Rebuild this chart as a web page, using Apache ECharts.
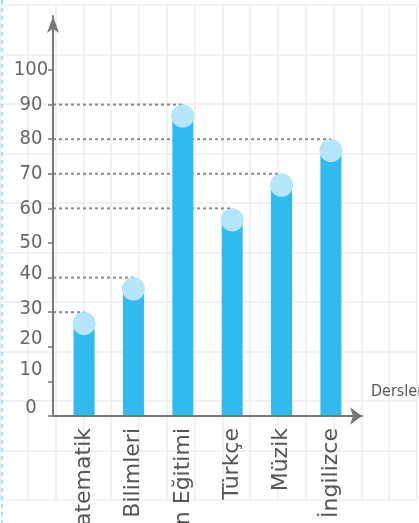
<!DOCTYPE html>
<html>
<head>
<meta charset="utf-8">
<script src="https://cdn.jsdelivr.net/npm/echarts@6/dist/echarts.min.js"></script>
<style>
html,body{margin:0;padding:0;background:#fff;}
#c{width:419px;height:523px;}
</style>
</head>
<body>
<div id="c"></div>
<script>
// ---- data ----
const categories = ['Matematik', 'Fen Bilimleri', 'Beden Eğitimi', 'Türkçe', 'Müzik', 'İngilizce'];
const values = [30, 40, 90, 60, 70, 80];
const yTicks = [0, 10, 20, 30, 40, 50, 60, 70, 80, 90, 100];
const xAxisName = 'Dersler';

// ---- layout constants ----
const X_MIN = -0.63, X_MAX = 5.63, Y_MAX = 115.6;
const BAR_W = 21, CAP = 23;
// hand-drawn look: lower tick labels sit slightly above their ticks (px)
const labelLift = { 0: 8, 10: 12, 20: 8, 30: 3, 40: 4 };

const chart = echarts.init(document.getElementById('c'));

const guideSeries = categories.map((c, i) => ({
  type: 'line',
  xAxisIndex: 0, yAxisIndex: 0,
  data: [[X_MIN, values[i]], [i, values[i]]],
  symbol: 'none',
  silent: true,
  z: 1,
  lineStyle: { color: '#8a8a8a', width: 2, type: [3, 3] }
}));

const pts = categories.map((c, i) => [i, values[i]]);

const rich = {};
Object.keys(labelLift).forEach(k => {
  rich['l' + k] = { padding: [0, 0, labelLift[k] * 2, 0] };
});

chart.setOption({
  animation: false,
  backgroundColor: '#ffffff',
  grid: [
    { left: 53, right: 57, top: 16, bottom: 107, outerBoundsMode: 'none', containLabel: false },
    { left: 0, width: 417, top: 5, height: 495, outerBoundsMode: 'none', containLabel: false }
  ],
  xAxis: [
    {
      type: 'value', gridIndex: 0, min: X_MIN, max: X_MAX,
      name: xAxisName, nameLocation: 'end', nameGap: 9,
      nameTextStyle: { fontFamily: 'DejaVu Sans Condensed, sans-serif', fontSize: 16, color: '#555', align: 'left', verticalAlign: 'bottom', padding: [0, 0, 16, 0] },
      axisLine: { show: true, onZero: false, lineStyle: { color: '#777', width: 2 }, symbol: ['none', 'arrow'], symbolSize: [13, 12] },
      axisTick: { show: false },
      splitLine: { show: false },
      axisLabel: {
        customValues: categories.map((c, i) => i),
        formatter: v => categories[Math.round(v)],
        rotate: 90, margin: 12,
        fontFamily: 'DejaVu Sans, sans-serif', fontSize: 22, color: '#555'
      },
      z: 3
    },
    {
      type: 'value', gridIndex: 1, min: 0, max: 15, interval: 1,
      axisLine: { show: false }, axisTick: { show: false }, axisLabel: { show: false },
      splitLine: { show: true, lineStyle: { color: '#ececec', width: 1.5 } },
      z: -1
    }
  ],
  yAxis: [
    {
      type: 'value', gridIndex: 0, min: 0, max: Y_MAX,
      axisLine: { show: true, onZero: false, lineStyle: { color: '#777', width: 2 }, symbol: ['none', 'arrow'], symbolSize: [9, 17] },
      axisTick: { show: true, customValues: yTicks, length: 5, lineStyle: { color: '#777', width: 1.5 } },
      axisLabel: {
        customValues: yTicks, align: 'center', margin: 22,
        fontFamily: 'DejaVu Sans Condensed, sans-serif', fontSize: 20, color: '#666',
        formatter: v => (labelLift[v] != null ? '{l' + v + '|' + v + '}' : String(v)),
        rich: rich
      },
      splitLine: { show: false },
      z: 3
    },
    {
      type: 'value', gridIndex: 1, min: 0, max: 10, interval: 1,
      axisLine: { show: false }, axisTick: { show: false }, axisLabel: { show: false },
      splitLine: { show: true, lineStyle: { color: '#ececec', width: 1.5 } },
      z: -1
    }
  ],
  graphic: [
    { type: 'line', shape: { x1: 2, y1: 0, x2: 2, y2: 523 }, style: { stroke: '#8fd6f5', lineWidth: 1.5, lineDash: [4, 4] } }
  ],
  series: guideSeries.concat([
    {
      type: 'bar', xAxisIndex: 0, yAxisIndex: 0,
      data: pts, barWidth: BAR_W, z: 2,
      itemStyle: { color: '#30baef', borderRadius: [BAR_W / 2, BAR_W / 2, 0, 0] }
    },
    {
      type: 'scatter', xAxisIndex: 0, yAxisIndex: 0,
      data: pts, symbol: 'circle', symbolSize: CAP, symbolOffset: [0, CAP / 2], z: 3,
      itemStyle: { color: '#b4e5f9', opacity: 1 }
    }
  ])
});
</script>
</body>
</html>
